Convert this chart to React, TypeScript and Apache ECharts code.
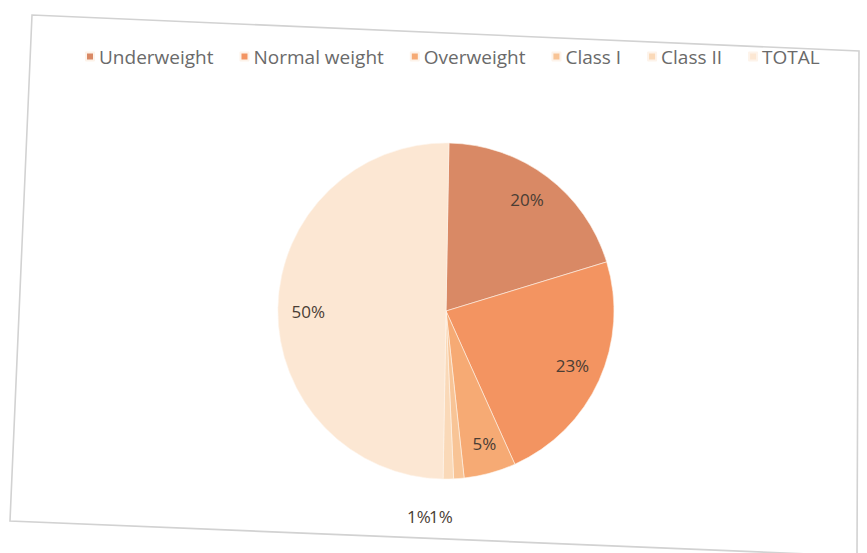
import React, { useEffect, useRef } from "react";
import * as echarts from "echarts";

const categories = ["Underweight", "Normal weight", "Overweight", "Class I", "Class II", "TOTAL"];
const values = [20, 23, 5, 1, 1, 50];
const colors = ["#d98965", "#f39461", "#f6aa74", "#f8c496", "#fad9b8", "#fce7d3"];

const CX = 446;
const CY = 311;
const R = 168;

export default function App() {
  const ref = useRef<HTMLDivElement>(null);
  useEffect(() => {
    if (!ref.current) return;
    const chart = echarts.init(ref.current, undefined, { renderer: "svg" });
    const total = values.reduce((a, b) => a + b, 0);
    const mids: number[] = [];
    let acc = 0;
    values.forEach((v) => {
      mids.push(((acc + v / 2) / total) * Math.PI * 2);
      acc += v;
    });
    const smallIdx = values.map((v, i) => (v / total < 0.02 ? i : -1)).filter((i) => i >= 0);
    chart.setOption({
      animation: false,
      backgroundColor: "#ffffff",
      graphic: [
        {
          type: "polygon",
          shape: { points: [[32, 15], [859, 51], [857, 556], [10, 521]] },
          style: { fill: "none", stroke: "#d2d2d2", lineWidth: 1.6 },
          silent: true,
        },
      ],
      legend: {
        top: 42,
        left: 80,
        itemWidth: 8,
        itemHeight: 8,
        itemGap: 26,
        icon: "rect",
        textStyle: { color: "#6a6a6a", fontSize: 19, fontFamily: "Open Sans" },
        data: categories,
      },
      series: [
        {
          type: "pie",
          center: [CX, CY],
          radius: R,
          startAngle: 89,
          clockwise: true,
          avoidLabelOverlap: false,
          itemStyle: { borderColor: "#fdf3ea", borderWidth: 0.6 },
          label: {
            show: true,
            position: "inside",
            formatter: "{c}%",
            color: "#4a3d34",
            fontSize: 17,
            fontFamily: "Open Sans",
          },
          labelLine: { show: false },
          labelLayout: (p: any) => {
            const i = p.dataIndex;
            const k = smallIdx.indexOf(i);
            if (k >= 0) {
              return {
                x: CX - 16 + (k - (smallIdx.length - 1) / 2) * 22,
                y: CY + R + 37,
                align: "center",
                verticalAlign: "middle",
              };
            }
            const f = 0.82;
            return {
              x: CX + f * R * Math.sin(mids[i]),
              y: CY - f * R * Math.cos(mids[i]),
              align: "center",
              verticalAlign: "middle",
            };
          },
          data: categories.map((name, i) => ({
            name,
            value: values[i],
            itemStyle: { color: colors[i] },
          })),
        },
      ],
    });
    return () => chart.dispose();
  }, []);
  return (
    <div
      ref={ref}
      style={{ position: "fixed", left: 0, top: 0, width: 867, height: 553 }}
    />
  );
}
